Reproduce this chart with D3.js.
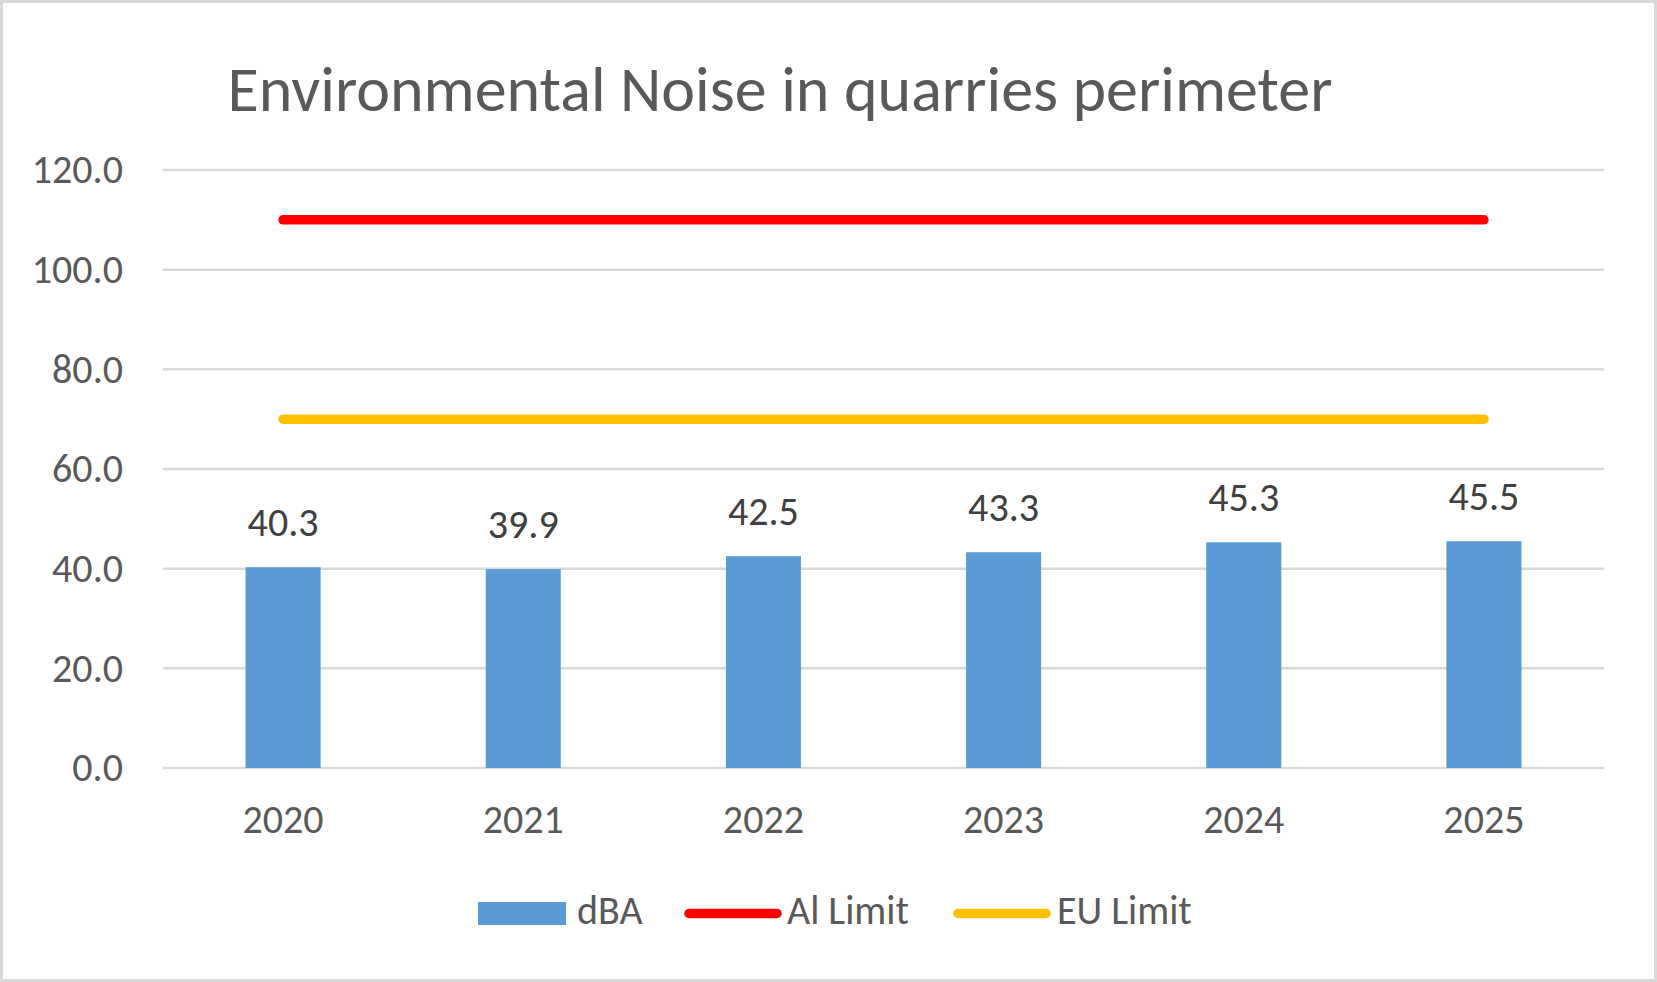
<!DOCTYPE html>
<html>
<head>
<meta charset="utf-8">
<script src="https://cdn.jsdelivr.net/npm/d3@7"></script>
<style>
  html, body { margin: 0; padding: 0; background: #fff; }
  svg { display: block; }
  text { font-family: Carlito, Calibri, Lato, sans-serif; }
</style>
</head>
<body>
<svg id="chart"></svg>
<script>
// chart values
const years = ['2020', '2021', '2022', '2023', '2024', '2025'];
const dBA = [40.3, 39.9, 42.5, 43.3, 45.3, 45.5];
const alLimit = [110, 110, 110, 110, 110, 110];
const euLimit = [70, 70, 70, 70, 70, 70];
const yTicks = [0, 20, 40, 60, 80, 100, 120];
const title = 'Environmental Noise in quarries perimeter';

const width = 1657;
const height = 982;
const textColor = '#595959';
const fontFam = 'Carlito, Calibri, Lato, sans-serif';
const fs = '40px';

const svg = d3.select('#chart')
  .attr('width', width)
  .attr('height', height);

// outer frame
svg.append('rect')
  .attr('x', 1.5).attr('y', 1.5)
  .attr('width', width - 3).attr('height', height - 3)
  .attr('fill', '#fff')
  .attr('stroke', '#d9d9d9')
  .attr('stroke-width', 3);

svg.append('text')
  .attr('x', 780)
  .attr('y', 111)
  .attr('text-anchor', 'middle')
  .attr('fill', textColor)
  .style('font-size', '64px')
  .text(title);

const x = d3.scaleBand()
  .domain(years)
  .range([163, 1604])
  .padding(0);

const y = d3.scaleLinear()
  .domain([0, 120])
  .range([768, 170]);

// gridlines
svg.append('g')
  .selectAll('line')
  .data(yTicks)
  .enter()
  .append('line')
  .attr('x1', x.range()[0])
  .attr('x2', x.range()[1])
  .attr('y1', d => y(d))
  .attr('y2', d => y(d))
  .attr('stroke', '#d9d9d9')
  .attr('stroke-width', 2.5);

// y axis labels
const yAxis = svg.append('g')
  .attr('transform', 'translate(163,0)')
  .call(d3.axisLeft(y).tickValues(yTicks).tickFormat(d3.format('.1f')).tickSize(0).tickPadding(40));
yAxis.select('.domain').remove();
yAxis.selectAll('text')
  .attr('fill', textColor)
  .attr('dy', '0.32em')
  .style('font-size', fs)
  .style('font-family', fontFam);

// x axis labels
const xAxis = svg.append('g')
  .attr('transform', 'translate(0,768)')
  .call(d3.axisBottom(x).tickSize(0));
xAxis.select('.domain').remove();
xAxis.selectAll('text')
  .attr('y', 65)
  .attr('dy', 0)
  .attr('fill', textColor)
  .style('font-size', fs)
  .style('font-family', fontFam);

const barW = x.bandwidth() * 0.3125;
const cx = d => x(d) + x.bandwidth() / 2;

// bars
svg.append('g')
  .selectAll('rect')
  .data(dBA)
  .enter()
  .append('rect')
  .attr('x', (d, i) => cx(years[i]) - barW / 2)
  .attr('y', d => y(d))
  .attr('width', barW)
  .attr('height', d => y(0) - y(d))
  .attr('fill', '#5b9bd5');

// data labels
svg.append('g')
  .selectAll('text')
  .data(dBA)
  .enter()
  .append('text')
  .attr('x', (d, i) => cx(years[i]))
  .attr('y', d => y(d) - 31)
  .attr('text-anchor', 'middle')
  .attr('fill', '#404040')
  .style('font-size', fs)
  .text(d => d3.format('.1f')(d));

// limit lines
const line = d3.line()
  .x((d, i) => cx(years[i]))
  .y(d => y(d));

[[alLimit, '#ff0000'], [euLimit, '#ffc000']].forEach(([vals, col]) => {
  svg.append('path')
    .datum(vals)
    .attr('d', line)
    .attr('fill', 'none')
    .attr('stroke', col)
    .attr('stroke-width', 9.5)
    .attr('stroke-linecap', 'round');
});

// legend
const legend = svg.append('g');
const ly = 913.5;
legend.append('rect')
  .attr('x', 478).attr('y', 902)
  .attr('width', 88).attr('height', 23)
  .attr('fill', '#5b9bd5');
legend.append('text')
  .attr('x', 577).attr('y', 924)
  .attr('fill', textColor).style('font-size', fs)
  .text('dBA');
legend.append('line')
  .attr('x1', 689).attr('x2', 777)
  .attr('y1', ly).attr('y2', ly)
  .attr('stroke', '#ff0000').attr('stroke-width', 9.5).attr('stroke-linecap', 'round');
legend.append('text')
  .attr('x', 787).attr('y', 924)
  .attr('fill', textColor).style('font-size', fs)
  .text('Al Limit');
legend.append('line')
  .attr('x1', 958).attr('x2', 1046)
  .attr('y1', ly).attr('y2', ly)
  .attr('stroke', '#ffc000').attr('stroke-width', 9.5).attr('stroke-linecap', 'round');
legend.append('text')
  .attr('x', 1057).attr('y', 924)
  .attr('fill', textColor).style('font-size', fs)
  .text('EU Limit');
</script>
</body>
</html>
